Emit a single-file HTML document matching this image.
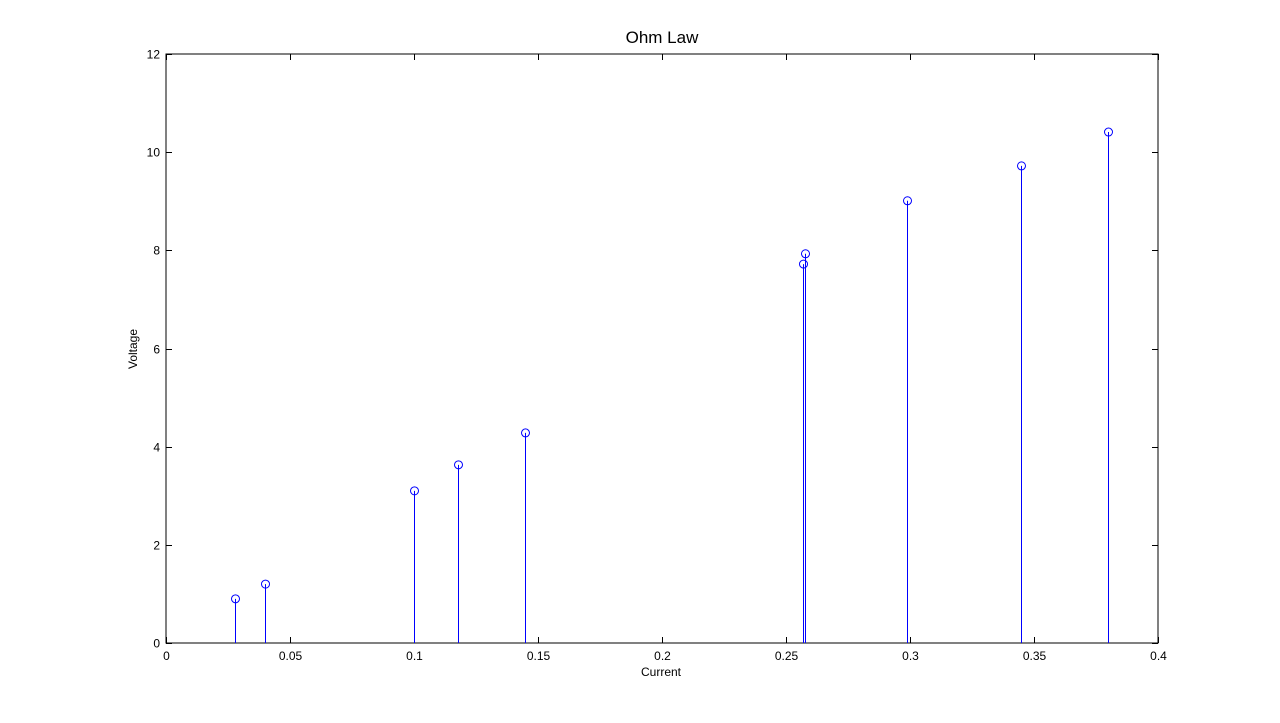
<!DOCTYPE html>
<html><head><meta charset="utf-8"><style>
body{margin:0;background:#fff;}
svg{display:block;font-family:"Liberation Sans",Arial,sans-serif;}
</style></head><body>
<svg id="chart" width="1280" height="723" viewBox="0 0 1280 723">
<rect x="0" y="0" width="1280" height="723" fill="#fff"/>
<rect x="166" y="54" width="992" height="589" fill="#fff" stroke="#000" stroke-width="1"/>
<g id="ticks"></g>
<g id="stems"></g>
<text x="662" y="43" font-size="17" text-anchor="middle">Ohm Law</text>
<text x="661" y="676" font-size="12" text-anchor="middle">Current</text>
<text transform="translate(137,349) rotate(-90)" font-size="12" text-anchor="middle">Voltage</text>
</svg>
<script>
const currents=[0.0278,0.0399,0.1,0.1177,0.1448,0.2569,0.2577,0.2988,0.3448,0.3798];
const voltages=[0.90,1.20,3.10,3.63,4.28,7.72,7.93,9.01,9.72,10.41];
const xTicks=[0,0.05,0.1,0.15,0.2,0.25,0.3,0.35,0.4];
const xTickLabels=["0","0.05","0.1","0.15","0.2","0.25","0.3","0.35","0.4"];
const yTicks=[0,2,4,6,8,10,12];
const yTickLabels=["0","2","4","6","8","10","12"];
const L=166,R=1158,T=54,B=643;
const sx=v=>L+(v-0)/(0.4-0)*(R-L);
const sy=v=>B-(v-0)/(12-0)*(B-T);
const NS="http://www.w3.org/2000/svg";
const tg=document.getElementById('ticks'),sg=document.getElementById('stems');
function mk(tag,attrs,parent){const e=document.createElementNS(NS,tag);for(const k in attrs)e.setAttribute(k,attrs[k]);parent.appendChild(e);return e;}
xTicks.forEach((t,i)=>{const x=Math.round(sx(t))+0.5;
 const a=mk('line',{x1:x,x2:x,y1:B,y2:B-6,stroke:'#000'},tg);
 
 
 const b=mk('line',{x1:x,x2:x,y1:T,y2:T+6,stroke:'#000'},tg);
 
 
 const tx=mk('text',{x:x,y:B+17,'font-size':12,'text-anchor':'middle'},tg);tx.textContent=xTickLabels[i];
 
 
});
yTicks.forEach((t,i)=>{const y=Math.round(sy(t))+0.5;
 const a=mk('line',{x1:L,x2:L+6,y1:y,y2:y,stroke:'#000'},tg);
 
 
 const b=mk('line',{x1:R,x2:R-6,y1:y,y2:y,stroke:'#000'},tg);
 
 
 const tx=mk('text',{x:L-6,y:y+4,'font-size':12,'text-anchor':'end'},tg);tx.textContent=yTickLabels[i];
 
 
});
currents.forEach((c,i)=>{const x=Math.round(sx(c))+0.5,y=sy(voltages[i]);
 const l=mk('line',{x1:x,x2:x,y1:B,y2:y,stroke:'#0000ff','stroke-width':1},sg);
 
 
 const m=mk('circle',{cx:x,cy:y,r:4,fill:'none',stroke:'#0000ff','stroke-width':1},sg);
 
 
});
</script>
</body></html>
